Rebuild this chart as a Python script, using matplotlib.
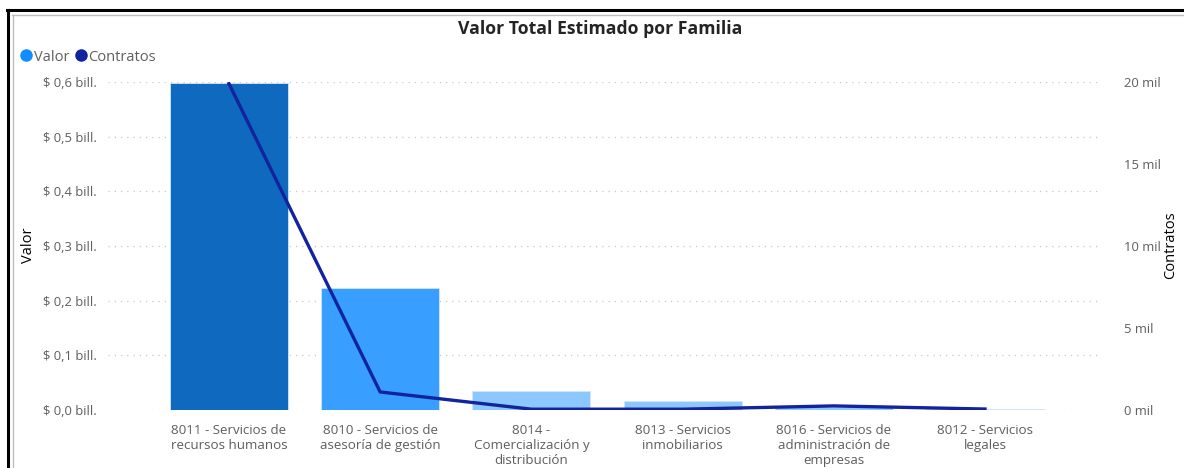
import matplotlib.pyplot as plt
from matplotlib.lines import Line2D
from matplotlib.ticker import FuncFormatter

plt.rcParams['font.family'] = ['Open Sans', 'DejaVu Sans']

# Data
familias = [
    "8011 - Servicios de\nrecursos humanos",
    "8010 - Servicios de\nasesoría de gestión",
    "8014 -\nComercialización y\ndistribución",
    "8013 - Servicios\ninmobiliarios",
    "8016 - Servicios de\nadministración de\nempresas",
    "8012 - Servicios\nlegales",
]
valor_bill = [0.598, 0.223, 0.035, 0.0165, 0.005, 0.002]
contratos = [19900, 1100, 50, 50, 250, 60]
bar_colors = ["#0F69BF", "#389EFF", "#8DC7FF", "#8DC7FF", "#8DC7FF", "#8DC7FF"]

LINE_COLOR = "#12239E"
TICK_COLOR = "#605E5C"

fig = plt.figure(figsize=(11.84, 4.68), dpi=100)
ax = fig.add_axes([0.0912, 0.1239, 0.8378, 0.7009])
ax2 = ax.twinx()

x = list(range(len(familias)))
ax.bar(x, valor_bill, width=0.78, color=bar_colors, edgecolor="#CFE6FF", linewidth=0.6, zorder=2)
ax2.plot(x, contratos, color=LINE_COLOR, linewidth=2.4, zorder=3)

ax.set_xlim(-0.8, 5.76)
ax.set_ylim(0, 0.6)
ax2.set_ylim(0, 20000)
ax.set_yticks([0, 0.1, 0.2, 0.3, 0.4, 0.5, 0.6])
ax2.set_yticks([0, 5000, 10000, 15000, 20000])
ax.yaxis.set_major_formatter(FuncFormatter(lambda v, p: "$ " + f"{v:.1f}".replace(".", ",") + " bill."))
ax2.yaxis.set_major_formatter(FuncFormatter(lambda v, p: f"{int(v/1000)} mil"))
ax.set_xticks(x)
ax.set_xticklabels(familias, fontsize=9.6, color=TICK_COLOR, linespacing=1.2)

ax.grid(axis="y", linestyle=(0, (1, 4)), color="#C8C6C4", linewidth=0.9, zorder=0)
ax.set_axisbelow(True)
for a in (ax, ax2):
    for s in a.spines.values():
        s.set_visible(False)
    a.tick_params(length=0, colors=TICK_COLOR, labelsize=9.4)
ax.tick_params(axis="y", pad=8)
ax2.tick_params(axis="y", pad=17)
ax.tick_params(axis="x", pad=10, labelsize=9.6)
ax.set_zorder(ax2.get_zorder() - 1)
ax2.patch.set_visible(False)

# axis titles
W, H = 1184, 468
fig.text(29 / W, 1 - 245 / H, "Valor", rotation=90, ha="center", va="center", fontsize=10.5, color="black")
fig.text(1171 / W, 1 - 245 / H, "Contratos", rotation=90, ha="center", va="center", fontsize=10.5, color="black")

fig.text(0.507, 0.938, "Valor Total Estimado por Familia", ha="center", va="center",
         fontsize=12.7, fontweight="bold", color="#252423")

handles = [
    Line2D([], [], marker="o", linestyle="none", color="#118DFF", markersize=8),
    Line2D([], [], marker="o", linestyle="none", color=LINE_COLOR, markersize=8),
]
fig.legend(handles, ["Valor", "Contratos"], loc="center left", bbox_to_anchor=(0.005, 0.878),
           ncol=2, frameon=False, handletextpad=0.0, columnspacing=0.3, handlelength=1.0,
           fontsize=10.5, labelcolor="#605E5C")

# frame lines of the visual
fig.add_artist(Line2D([7 / W, 1], [1 - 10 / H, 1 - 10 / H], color="black", linewidth=2.2, transform=fig.transFigure))
fig.add_artist(Line2D([8 / W, 8 / W], [0, 1 - 10 / H], color="black", linewidth=2.2, transform=fig.transFigure))
fig.add_artist(Line2D([12 / W, 1], [1 - 15 / H, 1 - 15 / H], color="#BDBDBD", linewidth=1, transform=fig.transFigure))
fig.add_artist(Line2D([12.5 / W, 12.5 / W], [0, 1 - 15 / H], color="#BDBDBD", linewidth=1, transform=fig.transFigure))

fig.savefig("out.png", dpi=100)
